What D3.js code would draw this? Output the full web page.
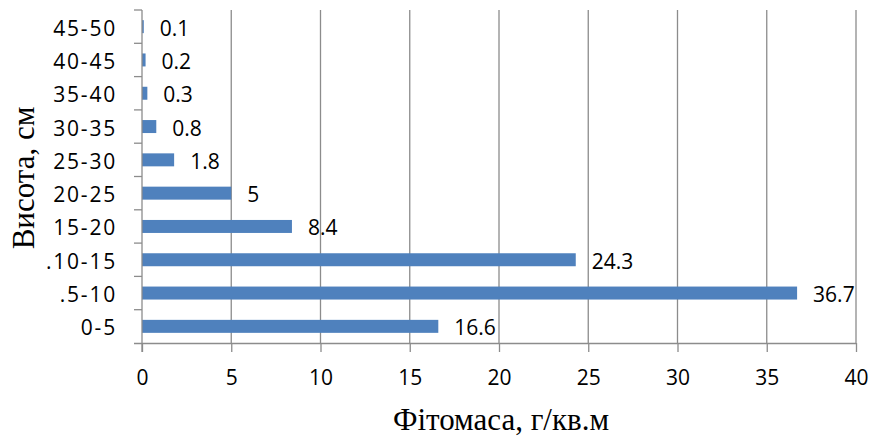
<!DOCTYPE html>
<html lang="uk">
<head>
    <meta charset="UTF-8">
    <title>Фітомаса за висотою</title>
    <style>
        body { margin: 0; background: #fff; }
        .title { font-family: "Liberation Serif", "Times New Roman", serif; font-size: 31px; fill: #000; }
        .label { font-family: "Open Sans", sans-serif; font-size: 21px; fill: #000; }
    </style>
</head>
<body>
<svg width="874" height="441"></svg>
<script src="https://d3js.org/d3.v7.min.js"></script>
<script>
    // categories from bottom to top
    var heights = ["0-5", ".5-10", ".10-15", "15-20", "20-25", "25-30", "30-35", "35-40", "40-45", "45-50"];
    var biomass = [16.6, 36.7, 24.3, 8.4, 5, 1.8, 0.8, 0.3, 0.2, 0.1];
    var xTicks = [0, 5, 10, 15, 20, 25, 30, 35, 40];

    var svg = d3.select("svg");
    var mLeft = 142, mRight = 856, mTop = 10, mBottom = 343;

    var x = d3.scaleLinear().domain([0, 40]).range([mLeft, mRight]);
    var y = d3.scaleBand()
        .domain(heights.slice().reverse())
        .range([mTop, mBottom])
        .paddingInner(0.61)
        .paddingOuter(0.305);

    // vertical gridlines
    svg.append("g")
        .selectAll("line")
        .data(xTicks.slice(1))
        .enter().append("line")
        .attr("x1", function(d) { return x(d); })
        .attr("x2", function(d) { return x(d); })
        .attr("y1", mTop)
        .attr("y2", mBottom)
        .attr("stroke", "#8c8c8c")
        .attr("stroke-width", 1.3);

    // bars
    svg.append("g")
        .selectAll("rect")
        .data(heights)
        .enter().append("rect")
        .attr("x", x(0))
        .attr("y", function(d) { return y(d); })
        .attr("width", function(d, i) { return x(biomass[i]) - x(0); })
        .attr("height", y.bandwidth())
        .attr("fill", "#4f81bd");

    // value labels
    svg.append("g")
        .selectAll("text")
        .data(heights)
        .enter().append("text")
        .attr("class", "label")
        .attr("x", function(d, i) { return x(biomass[i]) + 16; })
        .attr("y", function(d) { return y(d) + y.bandwidth() / 2 + 9; })
        .text(function(d, i) { return biomass[i]; });

    // x axis
    var xAxis = svg.append("g")
        .attr("transform", "translate(0," + mBottom + ")")
        .call(d3.axisBottom(x).tickValues(xTicks).tickSize(9).tickPadding(18).tickSizeOuter(0));
    xAxis.select(".domain").attr("d", "M" + (mLeft - 8) + ",0.5H" + mRight).attr("stroke", "#8c8c8c").attr("stroke-width", 1.3);
    xAxis.selectAll(".tick line").attr("stroke", "#8c8c8c").attr("stroke-width", 1.3);
    xAxis.selectAll(".tick text")
        .attr("font-family", "Open Sans, sans-serif")
        .attr("font-size", 21)
        .attr("fill", "#000");

    // y axis with category separators on the left
    var yAxis = svg.append("g").attr("transform", "translate(" + mLeft + ",0)");
    yAxis.append("line")
        .attr("x1", 0).attr("x2", 0)
        .attr("y1", mTop).attr("y2", mBottom + 9)
        .attr("stroke", "#8c8c8c").attr("stroke-width", 1.3);
    var step = (mBottom - mTop) / heights.length;
    yAxis.selectAll("line.sep")
        .data(d3.range(heights.length))
        .enter().append("line")
        .attr("class", "sep")
        .attr("x1", -8).attr("x2", 0)
        .attr("y1", function(d) { return mTop + d * step; })
        .attr("y2", function(d) { return mTop + d * step; })
        .attr("stroke", "#8c8c8c").attr("stroke-width", 1.3);
    yAxis.selectAll("text")
        .data(heights)
        .enter().append("text")
        .attr("class", "label")
        .attr("x", -25)
        .attr("y", function(d) { return y(d) + y.bandwidth() / 2 + 9; })
        .attr("text-anchor", "end")
        .attr("letter-spacing", "1.8px")
        .text(function(d) { return d; });

    // axis titles
    svg.append("text")
        .attr("class", "title")
        .attr("x", 501)
        .attr("y", 430)
        .attr("text-anchor", "middle")
        .text("Фітомаса, г/кв.м");

    svg.append("text")
        .attr("class", "title")
        .attr("transform", "translate(34,178) rotate(-90)")
        .attr("text-anchor", "middle")
        .text("Висота, см");
</script>
</body>
</html>
